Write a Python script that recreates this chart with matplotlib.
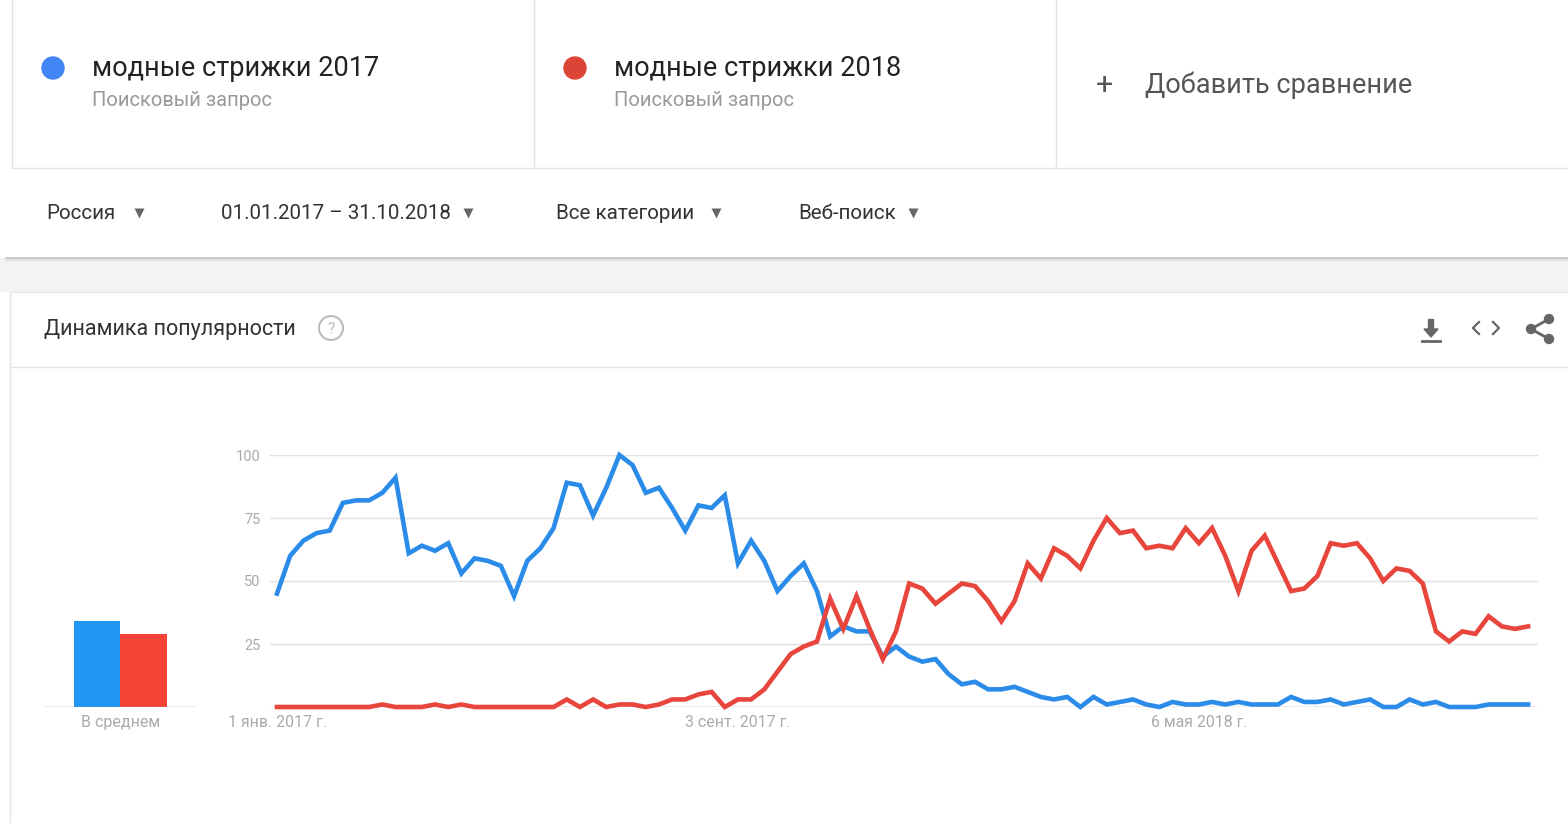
import matplotlib
matplotlib.use("Agg")
import matplotlib.pyplot as plt
import matplotlib.patches as mpatches
import matplotlib.dates as mdates
import numpy as np
import pandas as pd

plt.rcParams['font.family'] = ['Roboto', 'DejaVu Sans']

# weekly data, 01.01.2017 - 31.10.2018
weeks = pd.date_range('2017-01-01', periods=96, freq='7D')
blue_vals = [45, 60, 66, 69, 70, 81, 82, 82, 85, 91,
             61, 64, 62, 65, 53, 59, 58, 56, 44, 58,
             63, 71, 89, 88, 76, 87, 100, 96, 85, 87,
             79, 70, 80, 79, 84, 57, 66, 58, 46, 52,
             57, 46, 28, 32, 30, 30, 20, 24, 20, 18,
             19, 13, 9, 10, 7, 7, 8, 6, 4, 3,
             4, 0, 4, 1, 2, 3, 1, 0, 2, 1,
             1, 2, 1, 2, 1, 1, 1, 4, 2, 2,
             3, 1, 2, 3, 0, 0, 3, 1, 2, 0,
             0, 0, 1, 1, 1, 1]
red_vals = [0, 0, 0, 0, 0, 0, 0, 0, 1, 0,
            0, 0, 1, 0, 1, 0, 0, 0, 0, 0,
            0, 0, 3, 0, 3, 0, 1, 1, 0, 1,
            3, 3, 5, 6, 0, 3, 3, 7, 14, 21,
            24, 26, 43, 31, 44, 31, 19, 30, 49, 47,
            41, 45, 49, 48, 42, 34, 42, 57, 51, 63,
            60, 55, 66, 75, 69, 70, 63, 64, 63, 71,
            65, 71, 60, 46, 62, 68, 57, 46, 47, 52,
            65, 64, 65, 59, 50, 55, 54, 49, 30, 26,
            30, 29, 36, 32, 31, 32]
avg_vals = [34, 29]
terms = ['модные стрижки 2017', 'модные стрижки 2018']
yticks = [25, 50, 75, 100]
xtick_dates = ['2017-01-01', '2017-09-03', '2018-05-06']
xtick_labels = ['1 янв. 2017 г.', '3 сент. 2017 г.', '6 мая 2018 г.']

BLUE = '#2a8ce8'
RED = '#e8453c'
DOT_BLUE = '#4285f4'
DOT_RED = '#db4437'
W, H = 1568, 823

fig = plt.figure(figsize=(W / 100, H / 100), dpi=100)
fig.patch.set_facecolor('white')

# page decoration in pixel coords
bg = fig.add_axes([0, 0, 1, 1])
bg.set_xlim(0, W)
bg.set_ylim(H, 0)
bg.axis('off')

line_c = '#e3e3e3'
# header cards
for x in [12, 534, 1056]:
    bg.plot([x, x], [0, 168], color=line_c, lw=1)
bg.plot([12, W], [168, 168], color=line_c, lw=1)
for x0, col, term in [(53, DOT_BLUE, terms[0]), (575, DOT_RED, terms[1])]:
    bg.add_patch(mpatches.Circle((x0, 68), 11, color=col))
    bg.text(x0 + 39, 68, term, fontsize=19.5, color='#222222', va='center')
    bg.text(x0 + 39, 100, 'Поисковый запрос', fontsize=14.5, color='#999999', va='center')
bg.text(1105, 85, '+', fontsize=22, color='#555555', va='center', ha='center')
bg.text(1145, 85, 'Добавить сравнение', fontsize=19.5, color='#555555', va='center')

# filters row
for x, txt, tri in [(46, 'Россия', 139), (221, '01.01.2017 – 31.10.2018', 468),
                    (556, 'Все категории', 716), (798, 'Веб-поиск', 913)]:
    bg.text(x, 213, txt, fontsize=14.8, color='#333333', va='center')
    bg.plot(tri, 213, marker='v', ms=7, color='#666666', mec='none')

# grey band with shadow
bg.add_patch(mpatches.Rectangle((0, 258), W, 34, color='#f3f3f3', lw=0))
bg.plot([6, W], [258, 258], color='#c8c8c8', lw=2)
bg.plot([6, W], [260, 260], color='#e2e2e2', lw=1.5)

# chart card
bg.plot([10, 10], [292, H], color=line_c, lw=1)
bg.plot([10, W], [292, 292], color='#e8e8e8', lw=1)
bg.plot([10, W], [367, 367], color=line_c, lw=1)
bg.text(44, 329, 'Динамика популярности', fontsize=15.5, color='#333333', va='center')
bg.add_patch(mpatches.Circle((331, 328), 12, fill=False, ec='#bbbbbb', lw=1.5))
bg.text(331, 329, '?', fontsize=11, color='#bbbbbb', va='center', ha='center')

# toolbar icons
ic = '#666666'
bg.add_patch(mpatches.Polygon([[1424, 329], [1438, 329], [1431, 337]], color=ic))
bg.add_patch(mpatches.Rectangle((1428.5, 319), 5, 11, color=ic))
bg.plot([1422, 1440], [341, 341], color=ic, lw=2)
bg.plot([1479, 1473, 1479], [322, 328, 334], color=ic, lw=1.6)
bg.plot([1493, 1499, 1493], [322, 328, 334], color=ic, lw=1.6)
bg.plot([1549, 1531, 1549], [319, 329, 339], color=ic, lw=2)
for cx, cy in [(1549, 319), (1531, 329), (1549, 339)]:
    bg.add_patch(mpatches.Circle((cx, cy), 4.5, color=ic))

# main trend chart
px_week = 13.17
x0_px, x1_px = 270, 1538
ax = fig.add_axes([x0_px / W, 1 - 707 / H, (x1_px - x0_px) / W, (707 - 455) / H])
ax.set_facecolor('none')
d0 = mdates.date2num(weeks[0])
ax.set_xlim(d0 - 7 * (277 - x0_px) / px_week, d0 + 7 * (x1_px - 277) / px_week)
ax.set_ylim(0, 100)
for v in yticks:
    ax.axhline(v, color='#e0e0e0', lw=1, zorder=0)
ax.axhline(0, color='#9e9e9e', lw=1, zorder=0)
ax.plot(weeks, blue_vals, color=BLUE, lw=3.3, solid_joinstyle='miter', clip_on=False, zorder=3)
ax.plot(weeks, red_vals, color=RED, lw=3.3, solid_joinstyle='miter', clip_on=False, zorder=3)
ax.set_yticks(yticks)
ax.set_yticklabels([str(v) for v in yticks])
ax.set_xticks(pd.to_datetime(xtick_dates))
ax.set_xticklabels(xtick_labels)
ax.tick_params(axis='both', length=0, labelsize=10.5, labelcolor='#aaaaaa')
ax.tick_params(axis='y', pad=7)
ax.tick_params(axis='x', labelsize=11.4, pad=6)
for s in ax.spines.values():
    s.set_visible(False)

# average bars
axb = fig.add_axes([44 / W, 1 - 707 / H, (196 - 44) / W, (707 - 455) / H])
axb.set_facecolor('none')
axb.bar([0, 1], avg_vals, width=1, color=['#2196f3', '#f44336'])
axb.set_xlim(-1.14, 2.13)
axb.set_ylim(0, 100)
axb.axhline(0, color='#9e9e9e', lw=1)
axb.set_xticks([0.5])
axb.set_xticklabels(['В среднем'])
axb.set_yticks([])
axb.tick_params(axis='x', length=0, labelsize=11.5, labelcolor='#aaaaaa', pad=6)
for s in axb.spines.values():
    s.set_visible(False)

fig.savefig('out.png', dpi=100, facecolor='white')
